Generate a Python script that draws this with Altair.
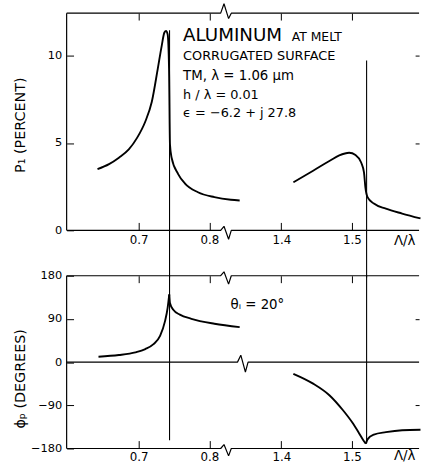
import altair as alt
import pandas as pd

FONT = "DejaVu Sans"

P_LEFT_X = [0.6417, 0.658, 0.672, 0.686, 0.6977, 0.7094, 0.7186, 0.727, 0.7326, 0.7364,
            0.7387, 0.741, 0.743, 0.7443, 0.7466, 0.7559, 0.7653, 0.7839, 0.8072, 0.8305, 0.843]
P_LEFT_Y = [3.50, 3.79, 4.16, 4.63, 5.29, 6.23, 7.36, 9.24, 10.56, 11.32,
            11.41, 11.22, 9.24, 4.92, 4.16, 3.22, 2.69, 2.18, 1.90, 1.75, 1.71]
P_RIGHT_X = [1.417, 1.445, 1.468, 1.482, 1.496, 1.505, 1.513, 1.517, 1.519, 1.522,
             1.531, 1.548, 1.571, 1.597]
P_RIGHT_Y = [2.75, 3.41, 3.97, 4.29, 4.44, 4.31, 3.88, 3.31, 2.46, 1.90,
             1.53, 1.24, 0.96, 0.68]
PHI_LEFT_X = [0.6431, 0.672, 0.6954, 0.7094, 0.721, 0.7303, 0.7373, 0.741, 0.7433,
              0.7443, 0.749, 0.7583, 0.7746, 0.8072, 0.843]
PHI_LEFT_Y = [11.3, 14.8, 20.4, 27.2, 37.4, 54.5, 85.4, 113, 141,
              123, 109, 99, 90.3, 80, 73]
PHI_RIGHT_X = [1.417, 1.445, 1.468, 1.487, 1.501, 1.510, 1.517, 1.5195, 1.522,
               1.531, 1.548, 1.571, 1.597]
PHI_RIGHT_Y = [-24.3, -44.8, -68.9, -99.8, -127, -148, -165, -170, -161,
               -151, -146, -142, -141]
PHI_LEFT_CUSP = 8      # index of the sharp maximum
PHI_RIGHT_CUSP = 7     # index of the sharp minimum

RES_X = [0.7437, 1.5207]          # resonance (vertical) lines
RES_TOP = [11.45, 9.72]           # upper ends in the P panel
RES_BOTTOM = [-163, -169]         # lower ends in the phase panel

X_TICKS = [0.7, 0.8, 1.4, 1.5]
P_TICKS = [0, 5, 10]
P_SIDE_TICKS = [5, 10]
PHI_TICKS = [-180, -90, 0, 90, 180]
PHI_SIDE_TICKS = [-90, 90]

# broken axis: the right-hand segment is drawn shifted left by SHIFT
SHIFT = 0.498
X_MIN, X_MAX = 0.598, 1.097
P_MAX = 12.43
PHI_MIN, PHI_MAX = -180, 180
P_GAP = -2.7                       # P-value reaching into the gap between panels

AXIS_BREAK = 0.8161
ZERO_BREAK = 0.8399
ZIG_DX = [0.0, 0.0047, 0.0112, 0.015]

TOP_TEXT = ["ALUMINUM", "AT MELT", "CORRUGATED SURFACE", "TM,  λ = 1.06 μm",
            "h / λ = 0.01", "ϵ = −6.2 + j 27.8"]
TOP_TEXT_X = [0.7629, 0.9168, 0.7629, 0.7629, 0.7629, 0.7629]
TOP_TEXT_Y = [10.85, 10.85, 9.77, 8.60, 7.53, 6.46]
TOP_TEXT_SIZE = [18.5, 12.5, 13, 13.5, 13, 13]
BOT_TEXT = ["θᵢ = 20°"]
BOT_TEXT_X = [0.830]
BOT_TEXT_Y = [111]
BOT_TEXT_SIZE = [13.5]


def disp(v):
    return v - SHIFT if v > 1.0 else v


def curve_df(segments):
    rows = []
    for s, (xs, ys) in enumerate(segments):
        for i, (x, y) in enumerate(zip(xs, ys)):
            rows.append({"seg": s, "i": i, "xd": disp(x), "y": y})
    return pd.DataFrame(rows)


def border_df(hlines, ymin, ymax):
    rows = []
    for p, (level, start, up, down) in enumerate(hlines):
        xs = [X_MIN, start, start + ZIG_DX[1], start + ZIG_DX[2], start + ZIG_DX[3], X_MAX]
        ys = [level, level, level + up, level - down, level, level]
        for i, (x, y) in enumerate(zip(xs, ys)):
            rows.append({"part": p, "i": i, "xd": x, "y": y})
    p = len(hlines)
    rows.append({"part": p, "i": 0, "xd": X_MIN, "y": ymin})
    rows.append({"part": p, "i": 1, "xd": X_MIN, "y": ymax})
    return pd.DataFrame(rows)


LABEL_EXPR = (f"datum.value > 0.85 ? format(datum.value + {SHIFT}, '.1f') "
              f": format(datum.value, '.1f')")
X_TICKS_D = [disp(v) for v in X_TICKS]
xscale = alt.Scale(domain=[X_MIN, X_MAX], nice=False, zero=False)


def panel(curves, yscale, yticks, side_ticks, ytitle, title_y, borders, rules,
          texts, height, xtitle_y, xlabel_pad):
    bottom_axis = alt.Axis(orient="bottom", values=X_TICKS_D, labelExpr=LABEL_EXPR,
                           offset=-8, tickSize=8, domain=False, grid=False,
                           labelPadding=xlabel_pad, labelFontSize=12,
                           title="Λ/λ", titleX=331, titleY=xtitle_y, titleAlign="left",
                           titleBaseline="alphabetic", titleFontSize=13.5,
                           titleFontWeight="normal")
    left_axis = alt.Axis(orient="left", values=yticks, offset=-7, tickSize=7,
                         domain=False, grid=False, labelPadding=5, labelFontSize=11.5,
                         title=ytitle, titleX=-54, titleY=title_y, titleAngle=270,
                         titleAlign="center", titleBaseline="middle",
                         titleFontSize=14.5, titleFontWeight="normal")
    top_axis = alt.Axis(orient="top", values=X_TICKS_D, offset=-7, tickSize=7,
                        labels=False, domain=False, grid=False, title=None)
    right_axis = alt.Axis(orient="right", values=side_ticks, offset=-4, tickSize=4,
                          labels=False, domain=False, grid=False, title=None)

    lines = alt.Chart(curves).mark_line(color="black", strokeWidth=1.9, clip=False,
                                        interpolate="monotone").encode(
        x=alt.X("xd:Q", scale=xscale, axis=bottom_axis),
        y=alt.Y("y:Q", scale=yscale, axis=left_axis),
        detail="seg:N", order="i:Q")
    ghost = alt.Chart(curves).mark_line(opacity=0).encode(
        x=alt.X("xd:Q", scale=xscale, axis=top_axis),
        y=alt.Y("y:Q", scale=yscale, axis=right_axis),
        detail="seg:N", order="i:Q")
    frame = alt.Chart(borders).mark_line(color="black", strokeWidth=1.2, clip=False,
                                         strokeJoin="bevel").encode(
        x=alt.X("xd:Q", scale=xscale, axis=None),
        y=alt.Y("y:Q", scale=yscale, axis=None),
        detail="part:N", order="i:Q")
    vlines = alt.Chart(rules).mark_rule(color="black", strokeWidth=1.1, clip=False).encode(
        x=alt.X("xd:Q", scale=xscale, axis=None),
        y=alt.Y("y:Q", scale=yscale, axis=None),
        y2="y2:Q")
    labels = alt.Chart(texts).mark_text(align="left", baseline="alphabetic", font=FONT,
                                        color="black").encode(
        x=alt.X("xd:Q", scale=xscale, axis=None),
        y=alt.Y("y:Q", scale=yscale, axis=None),
        text="t:N", size=alt.Size("fs:Q", scale=None))
    return (alt.layer(lines, ghost, frame, vlines, labels)
            .resolve_axis(x="independent", y="independent")
            .properties(width=357, height=height))


top_curves = curve_df([(P_LEFT_X, P_LEFT_Y), (P_RIGHT_X, P_RIGHT_Y)])
lc, rc = PHI_LEFT_CUSP, PHI_RIGHT_CUSP
bot_curves = curve_df([(PHI_LEFT_X[:lc + 1], PHI_LEFT_Y[:lc + 1]),
                       (PHI_LEFT_X[lc:], PHI_LEFT_Y[lc:]),
                       (PHI_RIGHT_X[:rc + 1], PHI_RIGHT_Y[:rc + 1]),
                       (PHI_RIGHT_X[rc:], PHI_RIGHT_Y[rc:])])

top_borders = border_df([(P_MAX, AXIS_BREAK, 0.54, 0.31),
                         (0, AXIS_BREAK, 0.23, 0.51)], 0, P_MAX)
bot_borders = border_df([(PHI_MAX, AXIS_BREAK, 8.2, 17.5),
                         (0, ZERO_BREAK, 14.4, 20.6),
                         (PHI_MIN, AXIS_BREAK, 8.2, 15.4)], PHI_MIN, PHI_MAX)

top_rules = pd.DataFrame({"xd": [disp(v) for v in RES_X], "y": RES_TOP,
                          "y2": [P_GAP] * len(RES_X)})
bot_rules = pd.DataFrame({"xd": [disp(v) for v in RES_X], "y": [PHI_MAX] * len(RES_X),
                          "y2": RES_BOTTOM})

top_texts = pd.DataFrame({"t": TOP_TEXT, "xd": TOP_TEXT_X, "y": TOP_TEXT_Y,
                          "fs": TOP_TEXT_SIZE})
bot_texts = pd.DataFrame({"t": BOT_TEXT, "xd": BOT_TEXT_X, "y": BOT_TEXT_Y,
                          "fs": BOT_TEXT_SIZE})

top = panel(top_curves, alt.Scale(domain=[0, P_MAX], nice=False, zero=False),
            P_TICKS, P_SIDE_TICKS, "P₁ (PERCENT)", 113, top_borders, top_rules,
            top_texts, 220, 22, 4)
bottom = panel(bot_curves, alt.Scale(domain=[PHI_MIN, PHI_MAX], nice=False, zero=False),
               PHI_TICKS, PHI_SIDE_TICKS, "ϕₚ (DEGREES)", 104, bot_borders, bot_rules,
               bot_texts, 175, 19, 3)

chart = (alt.vconcat(top, bottom, spacing=46, bounds="flush")
         .properties(padding={"left": 12.5, "top": -0.7, "right": 0, "bottom": 0},
                     background="white")
         .configure_view(stroke=None)
         .configure_axis(labelFont=FONT, titleFont=FONT, labelColor="black",
                         titleColor="black", tickColor="black", tickWidth=1))

chart.save("out.html", embed_options={"renderer": "svg", "actions": False})
